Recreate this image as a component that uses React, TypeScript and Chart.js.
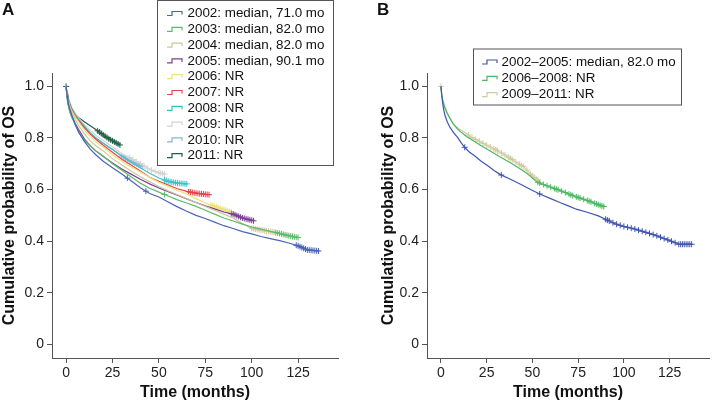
import React, { useEffect, useRef } from "react";
import { Chart, registerables } from "chart.js";

Chart.register(...registerables);

const FONT = "'Liberation Sans', Arial, Helvetica, sans-serif";

// ---------- shared axis ticks ----------
const xTicks = [0, 25, 50, 75, 100, 125];
const yTicks = [0, 0.2, 0.4, 0.6, 0.8, 1.0];

// ---------- Panel A ----------
const labelsA = [
  "2002: median, 71.0 mo",
  "2003: median, 82.0 mo",
  "2004: median, 82.0 mo",
  "2005: median, 90.1 mo",
  "2006: NR",
  "2007: NR",
  "2008: NR",
  "2009: NR",
  "2010: NR",
  "2011: NR",
];
const colorsA = [
  "#4a63b5", "#5dbb6a", "#c9c79a", "#7b3f96", "#ece27a",
  "#e8424a", "#3cc0c8", "#d2d2d2", "#86b6d6", "#1f5e48",
];

const t2002 = [0, 0.5, 1, 2, 3, 5, 7, 10, 13, 16, 20, 25, 30, 35, 40, 45, 50, 55, 60, 65, 70, 75, 80, 85, 90, 95, 100, 105, 110, 115, 120, 125, 130, 136];
const s2002 = [1, 0.965, 0.94, 0.912, 0.89, 0.85, 0.82, 0.785, 0.757, 0.735, 0.71, 0.685, 0.66, 0.634, 0.607, 0.585, 0.571, 0.552, 0.533, 0.516, 0.5, 0.488, 0.474, 0.46, 0.449, 0.437, 0.428, 0.418, 0.41, 0.402, 0.393, 0.382, 0.366, 0.362];

const t2003 = [0, 0.5, 1, 2, 3, 5, 7, 10, 13, 16, 20, 25, 30, 35, 40, 45, 50, 55, 60, 65, 70, 75, 80, 85, 90, 95, 100, 105, 110, 115, 120, 125];
const s2003 = [1, 0.96, 0.93, 0.9, 0.88, 0.85, 0.82, 0.79, 0.77, 0.75, 0.73, 0.7, 0.675, 0.65, 0.625, 0.605, 0.59, 0.575, 0.56, 0.548, 0.535, 0.52, 0.505, 0.49, 0.478, 0.466, 0.455, 0.447, 0.438, 0.43, 0.421, 0.414];

const t2004 = [0, 0.5, 1, 2, 3, 5, 7, 10, 13, 16, 20, 25, 30, 35, 40, 45, 50, 55, 60, 65, 70, 75, 80, 85, 90, 95, 100, 105, 110, 112];
const s2004 = [1, 0.965, 0.945, 0.92, 0.9, 0.87, 0.845, 0.815, 0.79, 0.77, 0.75, 0.72, 0.695, 0.672, 0.65, 0.63, 0.612, 0.595, 0.58, 0.565, 0.55, 0.535, 0.52, 0.505, 0.49, 0.468, 0.45, 0.443, 0.437, 0.435];

const t2005 = [0, 0.5, 1, 2, 3, 5, 7, 10, 13, 16, 20, 25, 30, 35, 40, 45, 50, 55, 60, 65, 70, 75, 80, 85, 90, 95, 101];
const s2005 = [1, 0.96, 0.935, 0.905, 0.885, 0.855, 0.83, 0.795, 0.77, 0.75, 0.728, 0.703, 0.68, 0.66, 0.64, 0.622, 0.606, 0.592, 0.578, 0.564, 0.55, 0.537, 0.525, 0.513, 0.505, 0.49, 0.479];

const t2006 = [0, 0.5, 1, 2, 3, 5, 7, 10, 13, 16, 20, 25, 30, 35, 40, 45, 50, 55, 60, 65, 70, 75, 80, 85, 89];
const s2006 = [1, 0.97, 0.95, 0.925, 0.905, 0.88, 0.86, 0.83, 0.805, 0.785, 0.765, 0.735, 0.71, 0.688, 0.668, 0.648, 0.628, 0.612, 0.597, 0.583, 0.565, 0.548, 0.535, 0.522, 0.513];

const t2007 = [0, 0.5, 1, 2, 3, 5, 7, 10, 13, 16, 20, 25, 30, 35, 40, 45, 50, 55, 60, 65, 70, 77];
const s2007 = [1, 0.97, 0.95, 0.93, 0.91, 0.885, 0.865, 0.838, 0.815, 0.795, 0.772, 0.745, 0.718, 0.695, 0.672, 0.648, 0.632, 0.618, 0.603, 0.593, 0.586, 0.58];

const t2008 = [0, 0.5, 1, 2, 3, 5, 7, 10, 13, 16, 20, 25, 30, 35, 40, 45, 50, 55, 60, 65];
const s2008 = [1, 0.97, 0.955, 0.935, 0.915, 0.89, 0.87, 0.845, 0.82, 0.8, 0.78, 0.755, 0.73, 0.707, 0.685, 0.663, 0.645, 0.632, 0.625, 0.622];

const t2009 = [0, 0.5, 1, 2, 3, 5, 7, 10, 13, 16, 20, 25, 30, 35, 40, 45, 50, 53];
const s2009 = [1, 0.975, 0.958, 0.94, 0.92, 0.895, 0.875, 0.85, 0.83, 0.81, 0.79, 0.765, 0.74, 0.72, 0.7, 0.678, 0.665, 0.66];

const t2010 = [0, 0.5, 1, 2, 3, 5, 7, 10, 13, 16, 20, 25, 30, 35, 41];
const s2010 = [1, 0.97, 0.95, 0.93, 0.91, 0.885, 0.865, 0.84, 0.82, 0.8, 0.78, 0.755, 0.73, 0.71, 0.69];

const t2011 = [0, 0.5, 1, 2, 3, 5, 7, 10, 12, 15, 17, 20, 23, 26, 29];
const s2011 = [1, 0.97, 0.946, 0.92, 0.905, 0.89, 0.878, 0.862, 0.852, 0.838, 0.828, 0.812, 0.797, 0.785, 0.773];

const cens2002 = [33, 43, 124, 125, 126, 127, 128, 129, 130, 131, 132, 133, 134, 135, 136];
const cens2003 = [53, 113, 114, 115, 116, 117, 118, 119, 120, 121, 122, 123, 124, 125];
const cens2004 = [100, 101, 102, 103, 104, 105, 106, 107, 108, 109, 110, 111, 112];
const cens2005 = [89, 90, 91, 92, 93, 94, 95, 96, 97, 98, 99, 100, 101];
const cens2006 = [78, 79, 80, 81, 82, 83, 84, 85, 86, 87, 88, 89];
const cens2007 = [66, 67, 68, 69, 70, 71, 72, 73, 74, 75, 76, 77];
const cens2008 = [53, 54, 55, 56, 57, 58, 59, 60, 61, 62, 63, 64, 65];
const cens2009 = [34, 36, 38, 40, 42, 44, 46, 48, 50, 51, 52, 53];
const cens2010 = [30, 31, 32, 33, 34, 35, 36, 37, 38, 39, 40, 41];
const cens2011 = [0, 17, 18, 19, 20, 21, 22, 23, 24, 25, 26, 27, 28, 29];

const timesA = [t2002, t2003, t2004, t2005, t2006, t2007, t2008, t2009, t2010, t2011];
const survA = [s2002, s2003, s2004, s2005, s2006, s2007, s2008, s2009, s2010, s2011];
const censA = [cens2002, cens2003, cens2004, cens2005, cens2006, cens2007, cens2008, cens2009, cens2010, cens2011];

// ---------- Panel B ----------
const labelsB = ["2002\u20132005: median, 82.0 mo", "2006\u20132008: NR", "2009\u20132011: NR"];
const colorsB = ["#3f55b0", "#4cb860", "#d2caa0"];

const tB1 = [0, 0.5, 0.9, 1.5, 2.3, 3.5, 5, 7, 9.1, 11, 13.1, 15.5, 18.4, 22, 25.6, 29, 32.8, 38, 43.5, 49, 54.3, 60, 65, 70, 74, 80, 86, 90, 95, 100, 105, 109.3, 114, 118.3, 122, 125.5, 130, 137];
const sB1 = [1, 0.965, 0.938, 0.91, 0.886, 0.862, 0.841, 0.82, 0.802, 0.782, 0.763, 0.746, 0.731, 0.71, 0.692, 0.674, 0.657, 0.64, 0.621, 0.6, 0.582, 0.565, 0.55, 0.536, 0.524, 0.512, 0.498, 0.485, 0.468, 0.457, 0.449, 0.44, 0.43, 0.42, 0.41, 0.401, 0.388, 0.388];

const tB2 = [0, 0.5, 1, 2, 3.2, 5, 6.8, 9, 11.3, 14, 18.4, 22, 27.4, 32, 38.2, 43, 47.1, 52.4, 57, 61.4, 66, 72.2, 77, 81.1, 85, 89];
const sB2 = [1, 0.96, 0.945, 0.92, 0.899, 0.875, 0.854, 0.836, 0.821, 0.806, 0.786, 0.77, 0.748, 0.728, 0.703, 0.682, 0.662, 0.63, 0.617, 0.606, 0.594, 0.576, 0.565, 0.555, 0.544, 0.534];

const tB3 = [0, 0.5, 1, 2, 4.1, 6, 7.7, 10, 13.1, 16, 20.2, 25, 29.2, 34, 38.2, 42, 45.3, 48, 50.7, 53.4];
const sB3 = [1, 0.965, 0.95, 0.925, 0.888, 0.865, 0.848, 0.835, 0.821, 0.806, 0.79, 0.772, 0.757, 0.738, 0.72, 0.702, 0.688, 0.668, 0.648, 0.636];

const censB1 = [13, 33, 54, 90, 91, 92, 94, 96, 98, 100, 102, 104, 106, 108, 110, 112, 114, 116, 118, 120, 122, 124, 126, 128, 130, 131, 132, 133, 134, 135, 136, 137];
const censB2 = [53, 54, 56, 58, 60, 62, 63, 64, 66, 68, 70, 71, 72, 74, 75, 76, 78, 80, 81, 82, 84, 85, 86, 87, 88, 89];
const censB3 = [0, 15, 17, 19, 21, 23, 25, 27, 29, 30, 31, 33, 35, 37, 38, 39, 41, 43, 44, 45, 47, 49, 50, 51, 52, 53];

const timesB = [tB1, tB2, tB3];
const survB = [sB1, sB2, sB3];
const censB = [censB1, censB2, censB3];

// ---------- helpers ----------
function valueAt(ts: number[], ss: number[], t: number): number {
  if (t <= ts[0]) return ss[0];
  for (let i = 1; i < ts.length; i++) {
    if (t <= ts[i]) {
      const f = (t - ts[i - 1]) / (ts[i] - ts[i - 1]);
      return ss[i - 1] + f * (ss[i] - ss[i - 1]);
    }
  }
  return ss[ss.length - 1];
}

const decorPlugin = {
  id: "decor",
  afterDraw(chart: any, _args: any, opts: any) {
    const ctx = chart.ctx;
    const ca = chart.chartArea;
    ctx.save();
    ctx.fillStyle = "#111";
    // panel letter
    ctx.font = `bold 17px ${FONT}`;
    ctx.textAlign = "left";
    ctx.textBaseline = "middle";
    ctx.fillText(opts.letter, opts.letterX, 10);
    // y title
    ctx.save();
    ctx.translate(opts.yTitleX, (ca.top + ca.bottom) / 2);
    ctx.rotate(-Math.PI / 2);
    ctx.textAlign = "center";
    ctx.font = `bold 16px ${FONT}`;
    ctx.fillText("Cumulative probability of OS", 0, 0);
    ctx.restore();
    // x title
    ctx.textAlign = "center";
    ctx.font = `bold 16px ${FONT}`;
    ctx.fillText("Time (months)", (ca.left + ca.right) / 2, 393);
    // legend
    const L = opts.legend;
    ctx.fillStyle = "#fff";
    ctx.fillRect(L.x, L.y, L.w, L.h);
    ctx.strokeStyle = "#555";
    ctx.lineWidth = 1;
    ctx.strokeRect(L.x + 0.5, L.y + 0.5, L.w, L.h);
    ctx.font = `13.4px ${FONT}`;
    ctx.textAlign = "left";
    ctx.textBaseline = "middle";
    L.labels.forEach((lab: string, i: number) => {
      const cy = L.firstY + i * L.step;
      ctx.strokeStyle = L.colors[i];
      ctx.lineWidth = 1.2;
      ctx.beginPath();
      ctx.moveTo(L.iconX, cy + 2);
      ctx.lineTo(L.iconX + 5, cy + 2);
      ctx.lineTo(L.iconX + 5, cy - 2);
      ctx.lineTo(L.iconX + 15, cy - 2);
      ctx.lineTo(L.iconX + 15, cy + 1);
      ctx.stroke();
      ctx.fillStyle = "#111";
      ctx.fillText(lab, L.textX, cy);
    });
    ctx.restore();
  },
};

function makeConfig(
  times: number[][],
  surv: number[][],
  cens: number[][],
  colors: string[],
  labels: string[],
  layout: any,
  decor: any
): any {
  const datasets: any[] = [];
  times.forEach((ts, k) => {
    datasets.push({
      label: labels[k],
      data: ts.map((t, i) => ({ x: t, y: surv[k][i] })),
      showLine: true,
      borderColor: colors[k],
      backgroundColor: colors[k],
      borderWidth: 1.2,
      pointRadius: 0,
      tension: 0,
      fill: false,
    });
  });
  times.forEach((ts, k) => {
    datasets.push({
      label: labels[k] + " censored",
      data: cens[k].map((t) => ({ x: t, y: valueAt(ts, surv[k], t) })),
      showLine: false,
      pointStyle: "cross",
      pointRadius: 3,
      pointBorderWidth: 1,
      borderColor: colors[k],
      backgroundColor: colors[k],
    });
  });
  const gridCfg = {
    display: true,
    drawOnChartArea: false,
    drawTicks: true,
    tickLength: 5,
    color: "#555",
  };
  return {
    type: "scatter",
    data: { datasets },
    options: {
      animation: false,
      responsive: false,
      layout: { padding: layout.padding },
      plugins: {
        legend: { display: false },
        tooltip: { enabled: false },
        decor,
      },
      scales: {
        x: {
          type: "linear",
          min: -7.6,
          max: 146.5,
          afterBuildTicks: (axis: any) => {
            axis.ticks = xTicks.map((v) => ({ value: v }));
          },
          afterFit: (axis: any) => {
            axis.height = layout.xHeight;
          },
          ticks: {
            autoSkip: false,
            maxRotation: 0,
            padding: 2,
            color: "#222",
            font: { family: FONT, size: 14 },
            callback: (v: any) => String(v),
          },
          grid: gridCfg,
          border: { display: true, color: "#555", width: 1 },
        },
        y: {
          type: "linear",
          min: -0.053,
          max: 1.052,
          afterBuildTicks: (axis: any) => {
            axis.ticks = yTicks.map((v) => ({ value: v }));
          },
          afterFit: (axis: any) => {
            axis.width = layout.yWidth;
          },
          ticks: {
            autoSkip: false,
            padding: 3,
            color: "#222",
            font: { family: FONT, size: 14 },
            callback: (v: any) => (Number(v) === 0 ? "0" : Number(v).toFixed(1)),
          },
          grid: gridCfg,
          border: { display: true, color: "#555", width: 1 },
        },
      },
    },
    plugins: [decorPlugin],
  };
}

export default function App() {
  const refA = useRef<HTMLCanvasElement>(null);
  const refB = useRef<HTMLCanvasElement>(null);

  useEffect(() => {
    const chartA = new Chart(
      refA.current as HTMLCanvasElement,
      makeConfig(
        timesA,
        survA,
        censA,
        colorsA,
        labelsA,
        { padding: { left: 0, top: 73, right: 19, bottom: 0 }, yWidth: 52, xHeight: 46 },
        {
          letter: "A",
          letterX: 2,
          yTitleX: 9.5,
          legend: {
            x: 157, y: 0, w: 176, h: 165,
            labels: labelsA, colors: colorsA,
            firstY: 13.5, step: 15.8, iconX: 167, textX: 187.5,
          },
        }
      )
    );
    const chartB = new Chart(
      refB.current as HTMLCanvasElement,
      makeConfig(
        timesB,
        survB,
        censB,
        colorsB,
        labelsB,
        { padding: { left: 0, top: 73, right: 1, bottom: 0 }, yWidth: 70, xHeight: 46 },
        {
          letter: "B",
          letterX: 20,
          yTitleX: 31.5,
          legend: {
            x: 116, y: 48.5, w: 208, h: 56,
            labels: labelsB, colors: colorsB,
            firstY: 62, step: 16.3, iconX: 125, textX: 144.5,
          },
        }
      )
    );
    return () => {
      chartA.destroy();
      chartB.destroy();
    };
  }, []);

  return (
    <div style={{ position: "fixed", left: 0, top: 0, width: 714, height: 404, background: "#fff" }}>
      <canvas ref={refA} width={357} height={404} style={{ position: "absolute", left: 0, top: 0 }} />
      <canvas ref={refB} width={357} height={404} style={{ position: "absolute", left: 357, top: 0 }} />
    </div>
  );
}
